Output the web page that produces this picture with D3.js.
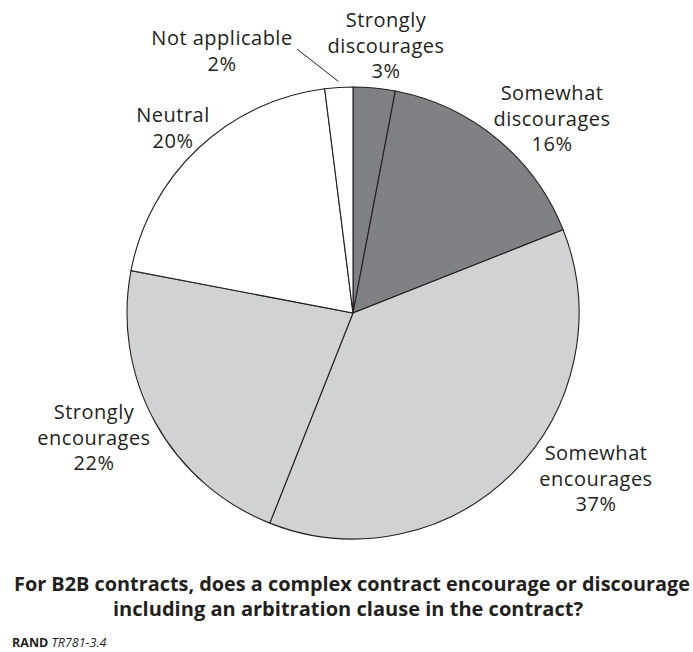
<!DOCTYPE html>
<html><head><meta charset="utf-8">
<script src="https://cdn.jsdelivr.net/npm/d3@7"></script>
<style>body{margin:0;background:#fff}svg{display:block}text{font-family:"Open Sans",sans-serif;fill:#231f20}</style>
</head><body>
<script>
const categories = ["Strongly discourages","Somewhat discourages","Somewhat encourages","Strongly encourages","Neutral","Not applicable"];
const values = [3,16,37,22,20,2];
const labelLines = [["Strongly","discourages","3%"],["Somewhat","discourages","16%"],["Somewhat","encourages","37%"],["Strongly","encourages","22%"],["Neutral","20%"],["Not applicable","2%"]];
const colors = ["#808184","#808184","#d1d2d4","#d1d2d4","#ffffff","#ffffff"];
const labelPos = [[386,27],[552,100],[596,460],[94,419],[173,122],[222,45]];
const titleLines = ["For B2B contracts, does a complex contract encourage or discourage","including an arbitration clause in the contract?"];
const titleWidths = [676,470];
const titleX = [352,348];

const W=693,H=652,cx=353,cy=313,R=226;
const svg=d3.select("body").append("svg").attr("width",W).attr("height",H);
const pie=d3.pie().sort(null).value(d=>d)(values);
const arc=d3.arc().innerRadius(0).outerRadius(R);
const g=svg.append("g").attr("transform",`translate(${cx},${cy})`);
g.selectAll("path").data(pie).join("path").attr("d",arc)
 .attr("fill",(d,i)=>colors[i]).attr("stroke","#231f20").attr("stroke-width",1.1);

// leader line for Not applicable
const na=pie[5]; const mid=(na.startAngle+na.endAngle)/2;
svg.append("line").attr("x1",297).attr("y1",49)
 .attr("x2",cx+(R+6)*Math.sin(mid)).attr("y2",cy-(R+6)*Math.cos(mid))
 .attr("stroke","#231f20").attr("stroke-width",1);

labelLines.forEach((lines,i)=>{
  const t=svg.append("text").attr("text-anchor","middle").attr("font-size",20).attr("letter-spacing","0.5px");
  lines.forEach((l,j)=>t.append("tspan").attr("x",labelPos[i][0]).attr("y",labelPos[i][1]+25.5*j).text(l));
});

titleLines.forEach((l,j)=>svg.append("text").attr("text-anchor","middle").attr("font-size",19.5).attr("font-weight","bold")
  .attr("x",titleX[j]).attr("y",591+25*j)
  .attr("textLength",titleWidths[j]).attr("lengthAdjust","spacingAndGlyphs").text(l));

const ft=svg.append("text").attr("x",12).attr("y",647).attr("font-size",12.5);
ft.append("tspan").attr("font-weight","bold").text("RAND ");
ft.append("tspan").attr("font-style","italic").text("TR781-3.4");
</script>
</body></html>
